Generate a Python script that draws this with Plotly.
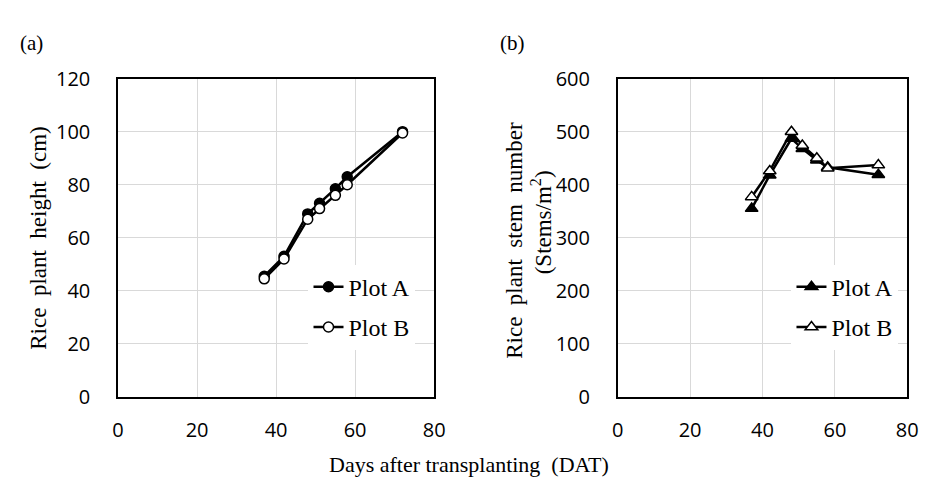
import plotly.graph_objects as go

# ---- data ----
days = [37, 42, 48, 51, 55, 58, 72]
height_a = [45.5, 53, 69, 73, 78.5, 83, 100]
height_b = [44.5, 52, 67, 71, 76, 80, 99.5]
stem_a = [355, 418, 487, 468, 446, 433, 419]
stem_b = [377, 426, 500, 474, 450, 431, 437]
x_ticks = [0, 20, 40, 60, 80]
ya_ticks = [0, 20, 40, 60, 80, 100, 120]
yb_ticks = [0, 100, 200, 300, 400, 500, 600]

W, H = 927, 484
serif = "Liberation Serif"
sans = "Open Sans"

fig = go.Figure()
fig.add_trace(go.Scatter(x=days, y=height_a, name="Plot A", mode="lines+markers",
                         line=dict(color="black", width=2.5),
                         marker=dict(symbol="circle", size=10, color="black", line=dict(color="black", width=1.5)),
                         xaxis="x", yaxis="y", legend="legend", legendgroup="a1"))
fig.add_trace(go.Scatter(x=days, y=height_b, name="Plot B", mode="lines+markers",
                         line=dict(color="black", width=2.5),
                         marker=dict(symbol="circle", size=10, color="white", line=dict(color="black", width=1.5)),
                         xaxis="x", yaxis="y", legend="legend", legendgroup="a2"))
fig.add_trace(go.Scatter(x=days, y=stem_a, name="Plot A", mode="lines+markers",
                         line=dict(color="black", width=2.5),
                         marker=dict(symbol="triangle-up", size=11, color="black", line=dict(color="black", width=1.5)),
                         xaxis="x2", yaxis="y2", legend="legend2", legendgroup="b1"))
fig.add_trace(go.Scatter(x=days, y=stem_b, name="Plot B", mode="lines+markers",
                         line=dict(color="black", width=2.5),
                         marker=dict(symbol="triangle-up", size=11, color="white", line=dict(color="black", width=1.5)),
                         xaxis="x2", yaxis="y2", legend="legend2", legendgroup="b2"))

def px(x):
    return x / W

def py(y):
    return 1 - y / H

ax_common = dict(showline=True, linecolor="black", linewidth=1.5, mirror=True,
                 showgrid=True, gridcolor="#d9d9d9", gridwidth=1, zeroline=False,
                 ticks="", tickfont=dict(family=sans, size=20, color="black"))

fig.update_layout(
    width=W, height=H, margin=dict(l=0, r=0, t=0, b=0),
    paper_bgcolor="white", plot_bgcolor="white",
    xaxis=dict(domain=[px(106), px(428)], range=[0, 80], tickvals=x_ticks,
               ticklabelstandoff=14, anchor="y", **ax_common),
    yaxis=dict(domain=[py(397), py(60)], range=[0, 120], tickvals=ya_ticks,
               ticklabelstandoff=22, anchor="x", **ax_common),
    xaxis2=dict(domain=[px(615), px(910)], range=[0, 80], tickvals=x_ticks,
                ticklabelstandoff=14, anchor="y2", **ax_common),
    yaxis2=dict(domain=[py(397), py(60)], range=[0, 600], tickvals=yb_ticks,
                ticklabelstandoff=22, anchor="x2", **ax_common),
    legend=dict(x=px(300), y=py(257), xanchor="left", yanchor="top",
                bgcolor="white", font=dict(family=serif, size=24, color="black"),
                tracegroupgap=6, itemwidth=30),
    legend2=dict(x=px(792), y=py(257), xanchor="left", yanchor="top",
                 bgcolor="white", font=dict(family=serif, size=24, color="black"),
                 tracegroupgap=6, itemwidth=30),
    showlegend=True,
)

ann = [
    dict(text="(a)", x=px(18), y=py(22), xanchor="center", yanchor="middle", size=21),
    dict(text="(b)", x=px(508), y=py(22), xanchor="center", yanchor="middle", size=21),
    dict(text="Days after transplanting  (DAT)", x=px(463), y=py(469), xanchor="center", yanchor="middle", size=22),
    dict(text="Rice  plant  height  (cm)", x=px(25), y=py(229), xanchor="center", yanchor="middle", textangle=-90, size=23),
    dict(text="Rice  plant  stem  number", x=px(509), y=py(231), xanchor="center", yanchor="middle", textangle=-90, size=23),
    dict(text="(Stems/m<sup>2</sup>)", x=px(537), y=py(212), xanchor="center", yanchor="middle", textangle=-90, size=23),
]
for a in ann:
    s = a.pop("size")
    a.update(xref="paper", yref="paper", showarrow=False,
             font=dict(family=serif, size=s, color="black"))
fig.update_layout(annotations=ann)

fig.write_html("out.html")
